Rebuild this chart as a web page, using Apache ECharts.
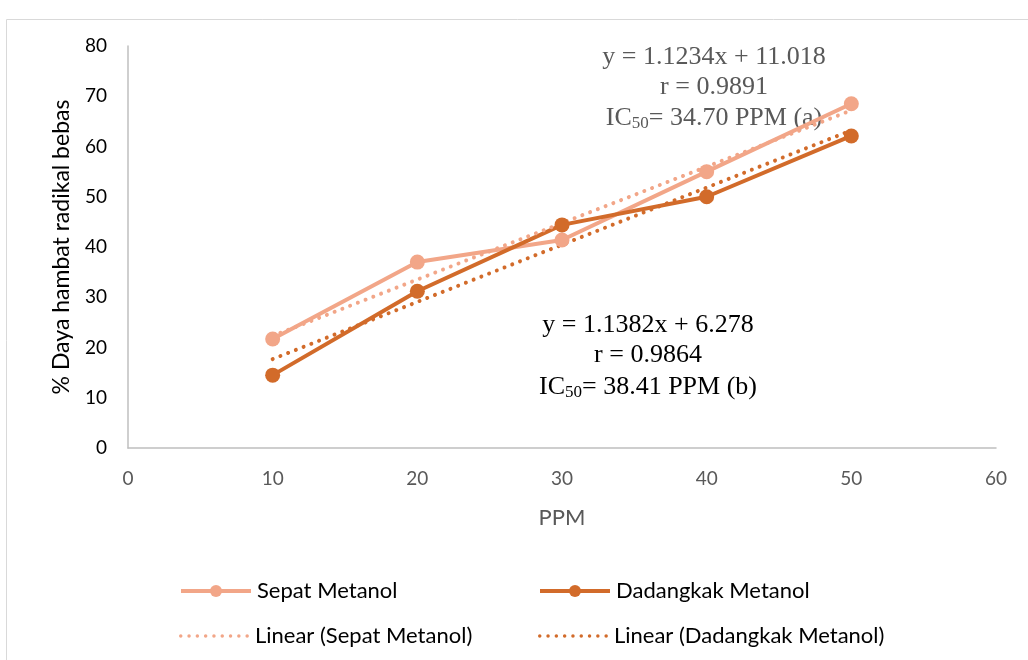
<!DOCTYPE html>
<html>
<head>
<meta charset="utf-8">
<script src="https://cdn.jsdelivr.net/npm/echarts@6/dist/echarts.min.js"></script>
<style>
  html, body { margin: 0; padding: 0; background: #fff; }
  #chart { width: 1028px; height: 660px; }
</style>
</head>
<body>
<div id="chart"></div>
<script>
// data
const ppm = [10, 20, 30, 40, 50];
const sepat = [21.7, 37.0, 41.4, 55.0, 68.5];
const dadangkak = [14.5, 31.2, 44.4, 50.0, 62.1];
// trend line ends (at x = 10 and x = 50)
const trendX = [10, 50];
const trendSepat = [22.3, 67.2];
const trendDadangkak = [17.7, 63.2];
const xTicks = [0, 10, 20, 30, 40, 50, 60];
const yTicks = [0, 10, 20, 30, 40, 50, 60, 70, 80];

const light = '#F2A688';
const dark = '#D26B2A';
const font = 'Lato';
const serif = 'Liberation Serif';

function pairs(xs, ys) {
  return xs.map((x, i) => [x, ys[i]]);
}

// dotted icon for the trend-line legend entries (9 round dots)
let dots = '';
for (let i = 0; i < 9; i++) {
  let cx = 1.75 + i * 8.3;
  dots += 'M' + (cx - 1.75) + ',1.75a1.75,1.75 0 1,0 3.5,0a1.75,1.75 0 1,0 -3.5,0z';
}
const dotIcon = 'path://' + dots;

let myChart = echarts.init(document.getElementById('chart'));

function legendAt(name, left, top, dotted) {
  return {
    data: dotted ? [{ name: name, icon: dotIcon }] : [name],
    left: left, top: top,
    itemWidth: 70, itemHeight: dotted ? 3.5 : 15, itemGap: 0,
    lineStyle: { width: 4 },
    textStyle: { fontFamily: font, fontSize: 22, color: '#000', padding: [0, 0, 0, 1] }
  };
}

myChart.setOption({
  animation: false,
  grid: { left: 128, right: 32, top: 46, bottom: 212 },
  xAxis: {
    type: 'value', min: xTicks[0], max: xTicks[xTicks.length - 1], interval: 10,
    name: 'PPM', nameLocation: 'middle', nameGap: 59,
    nameTextStyle: { fontFamily: font, fontSize: 22, color: '#595959' },
    axisLine: { show: true, lineStyle: { color: '#bfbfbf', width: 1.5 } },
    axisTick: { show: false },
    splitLine: { show: false },
    axisLabel: { margin: 21, fontFamily: font, fontSize: 19, color: '#595959' }
  },
  yAxis: {
    type: 'value', min: yTicks[0], max: yTicks[yTicks.length - 1], interval: 10,
    name: '% Daya hambat radikal bebas', nameLocation: 'middle', nameGap: 55,
    nameTextStyle: { fontFamily: font, fontSize: 23, color: '#000' },
    axisLine: { show: true, lineStyle: { color: '#bfbfbf', width: 1.5 } },
    axisTick: { show: false },
    splitLine: { show: false },
    axisLabel: { margin: 21, fontFamily: font, fontSize: 19, color: '#000' }
  },
  legend: [
    legendAt('Sepat Metanol', 174, 575, false),
    legendAt('Dadangkak Metanol', 533, 575, false),
    legendAt('Linear (Sepat Metanol)', 174, 620, true),
    legendAt('Linear (Dadangkak Metanol)', 533, 620, true)
  ],
  graphic: [
    {
      type: 'rect', left: 4, top: 17, silent: true, z: -10,
      shape: { width: 1060, height: 700 },
      style: { fill: 'none', stroke: '#d9d9d9', lineWidth: 1 }
    },
    { type: 'text', x: 714, y: 57, style: { text: 'y = 1.1234x + 11.018', fill: '#595959', font: '26px "Liberation Serif"', align: 'center', verticalAlign: 'middle' } },
    { type: 'text', x: 714, y: 87, style: { text: 'r = 0.9891', fill: '#595959', font: '26px "Liberation Serif"', align: 'center', verticalAlign: 'middle' } },
    { type: 'text', x: 714, y: 118, style: {
        text: '{a|IC}{s|50}{a|= 34.70 PPM (a)}', align: 'center', verticalAlign: 'middle',
        rich: {
          a: { fill: '#595959', fontFamily: serif, fontSize: 26 },
          s: { fill: '#595959', fontFamily: serif, fontSize: 17, padding: [12, 0, 0, 0] }
        }
      } },
    { type: 'text', x: 648, y: 325, style: { text: 'y = 1.1382x + 6.278', fill: '#000', font: '26px "Liberation Serif"', align: 'center', verticalAlign: 'middle' } },
    { type: 'text', x: 648, y: 355, style: { text: 'r = 0.9864', fill: '#000', font: '26px "Liberation Serif"', align: 'center', verticalAlign: 'middle' } },
    { type: 'text', x: 648, y: 387, style: {
        text: '{a|IC}{s|50}{a|= 38.41 PPM (b)}', align: 'center', verticalAlign: 'middle',
        rich: {
          a: { fill: '#000', fontFamily: serif, fontSize: 26 },
          s: { fill: '#000', fontFamily: serif, fontSize: 17, padding: [12, 0, 0, 0] }
        }
      } }
  ],
  series: [
    {
      name: 'Sepat Metanol', type: 'line', data: pairs(ppm, sepat),
      symbol: 'circle', symbolSize: 15, color: light,
      lineStyle: { width: 4, color: light }, itemStyle: { color: light }
    },
    {
      name: 'Dadangkak Metanol', type: 'line', data: pairs(ppm, dadangkak),
      symbol: 'circle', symbolSize: 15, color: dark,
      lineStyle: { width: 4, color: dark }, itemStyle: { color: dark }
    },
    {
      name: 'Linear (Sepat Metanol)', type: 'line', data: pairs(trendX, trendSepat),
      symbol: 'none', color: light,
      lineStyle: { width: 4, color: light, type: [0.01, 8.3], cap: 'round' }
    },
    {
      name: 'Linear (Dadangkak Metanol)', type: 'line', data: pairs(trendX, trendDadangkak),
      symbol: 'none', color: dark,
      lineStyle: { width: 4, color: dark, type: [0.01, 8.3], cap: 'round' }
    }
  ]
});
</script>
</body>
</html>
